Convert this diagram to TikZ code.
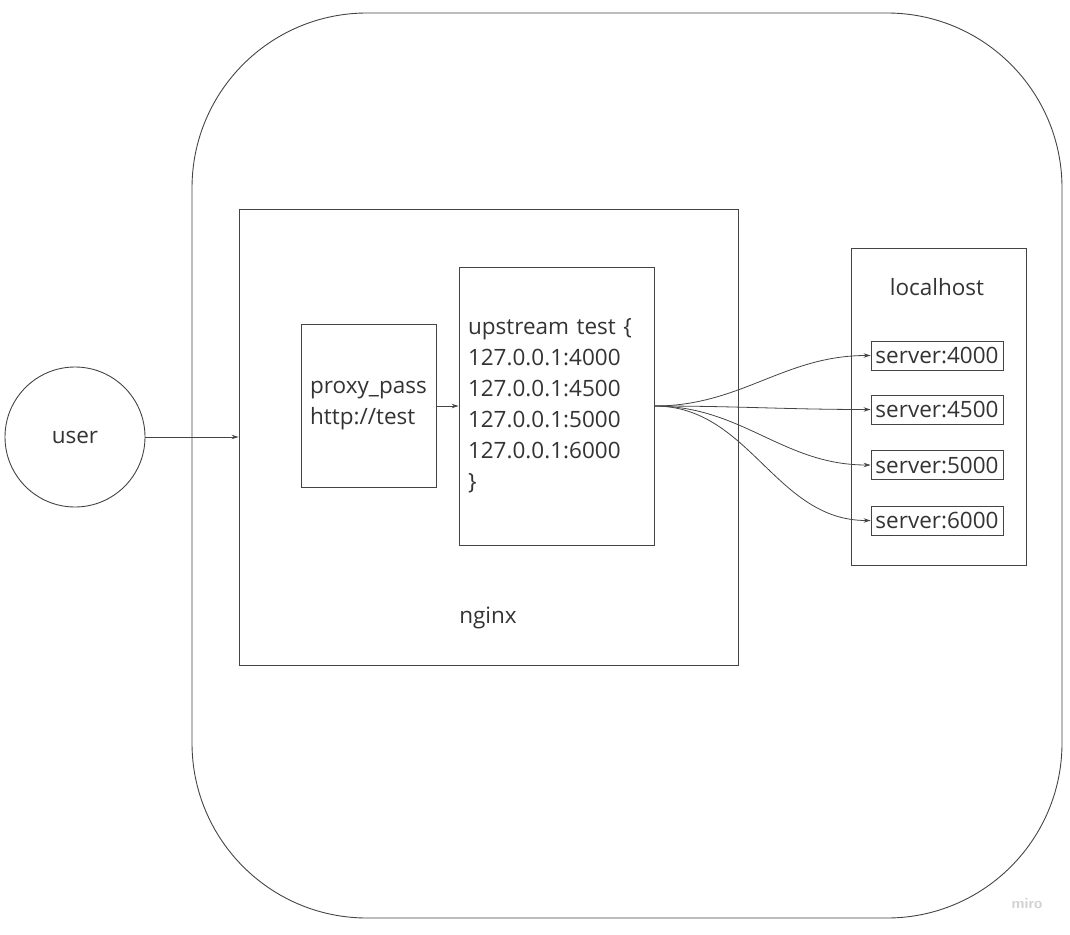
\documentclass[tikz,border=0pt]{standalone}
\usepackage{fontspec}
\setmainfont{Open Sans}
\usetikzlibrary{arrows.meta}
\definecolor{ink}{HTML}{333333}
\definecolor{edge}{HTML}{444444}
\begin{document}
\begin{tikzpicture}[x=1pt,y=-1pt,
  every node/.style={font=\fontsize{22.5}{31}\selectfont, text=ink},
  box/.style={draw=edge, line width=0.9pt, rectangle, inner sep=0pt},
  conn/.style={draw=edge, line width=0.8pt, -{Stealth[length=7pt,width=4.5pt]}},
  srv/.style={box, minimum width=132pt, minimum height=29pt},
]
\useasboundingbox (0,0) rectangle (1070,934);
\node[box, rounded corners=175pt, minimum width=870pt, minimum height=905pt] (host) at (627,465.5) {};
\node[draw=edge, line width=0.9pt, circle, minimum size=140pt, inner sep=0pt] (user) at (75,437) {user};
\node[box, minimum width=499pt, minimum height=456pt] (nginx) at (488.5,437) {};
\node (nginxlabel) at (488,618) {nginx};
\node[box, minimum width=135pt, minimum height=163pt, align=left] (proxy) at (368.5,405.5) {proxy\_pass\\http://test};
\node[box, minimum width=195pt, minimum height=278pt, text width=177pt, align=left] (up) at (556.5,406) {upstream test \{\\127.0.0.1:4000\\127.0.0.1:4500\\127.0.0.1:5000\\127.0.0.1:6000\\\}};
\node[box, minimum width=175pt, minimum height=317pt] (local) at (938.5,406.5) {};
\node (locallabel) at (937,287) {localhost};
\node[srv] (s1) at (937,355.5) {server:4000};
\node[srv] (s2) at (937,409.5) {server:4500};
\node[srv] (s3) at (937,465) {server:5000};
\node[srv] (s4) at (937,520.5) {server:6000};
\node[text=black!18, font=\sffamily\bfseries\fontsize{15}{17}\selectfont] (miro) at (1027,904) {miro};
\draw[conn] (user.east) -- (nginx.west |- user.east);
\draw[conn] (proxy.east |- up.west) -- (up.west);
\foreach \s in {s1,s2,s3,s4}{
  \draw[conn] (up.east) to[out=0,in=180] (\s.west);
}
\end{tikzpicture}
\end{document}
